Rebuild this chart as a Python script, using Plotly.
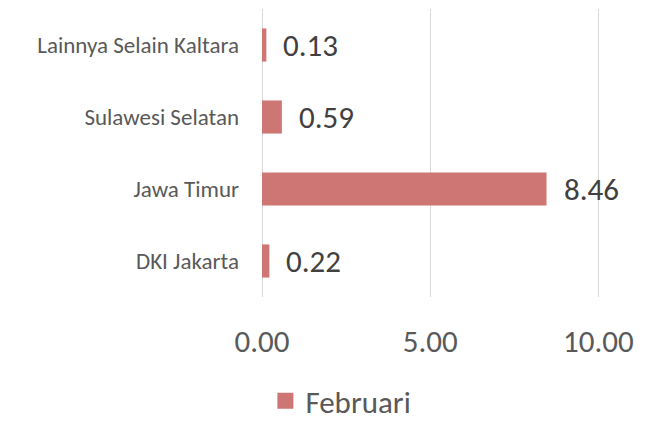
import plotly.graph_objects as go

categories = ["DKI Jakarta", "Jawa Timur", "Sulawesi Selatan", "Lainnya Selain Kaltara"]
februari = [0.22, 8.46, 0.59, 0.13]
tick_vals = [0, 5, 10]
tick_text = ["0.00", "5.00", "10.00"]
series_name = "Februari"

FONT = "Carlito, Calibri, Lato, sans-serif"
BAR = "rgb(205,118,115)"

fig = go.Figure()
fig.add_trace(go.Bar(
    x=februari, y=categories, orientation="h",
    marker=dict(color=BAR, line=dict(width=0)),
    width=0.46, showlegend=False, hoverinfo="x+y",
))
fig.add_trace(go.Scatter(
    x=[None], y=[None], mode="markers", name=series_name,
    marker=dict(symbol="square", size=18, color=BAR),
))
for v, c in zip(februari, categories):
    fig.add_annotation(
        x=v, y=c, text=f"{v:.2f}", showarrow=False,
        xanchor="left", yanchor="middle", xshift=15,
        font=dict(family=FONT, size=31, color="#404040"),
    )

fig.update_layout(
    width=661, height=426,
    margin=dict(l=262, r=61, t=9, b=129),
    paper_bgcolor="white", plot_bgcolor="white",
    font=dict(family=FONT, color="#595959"),
    xaxis=dict(
        range=[0, 10.05], tickvals=tick_vals, ticktext=tick_text,
        showgrid=True, gridcolor="#D9D9D9", gridwidth=1,
        zeroline=True, zerolinecolor="#D9D9D9", zerolinewidth=1,
        showline=False, ticks="", ticklabelstandoff=23,
        tickfont=dict(family=FONT, size=31, color="#595959"),
        fixedrange=True,
    ),
    yaxis=dict(
        categoryorder="array", categoryarray=categories,
        showgrid=False, zeroline=False, showline=False, ticks="",
        ticklabelstandoff=22,
        tickfont=dict(family=FONT, size=23, color="#595959"),
        fixedrange=True,
    ),
    legend=dict(
        orientation="h", x=0.01, xanchor="left",
        yref="container", y=1 - 401 / 426, yanchor="middle",
        font=dict(family=FONT, size=31, color="#595959"),
        bgcolor="rgba(0,0,0,0)",
    ),
)

fig.write_html("out.html", config={"displayModeBar": False},
               post_script="document.body.style.margin='0px';")
